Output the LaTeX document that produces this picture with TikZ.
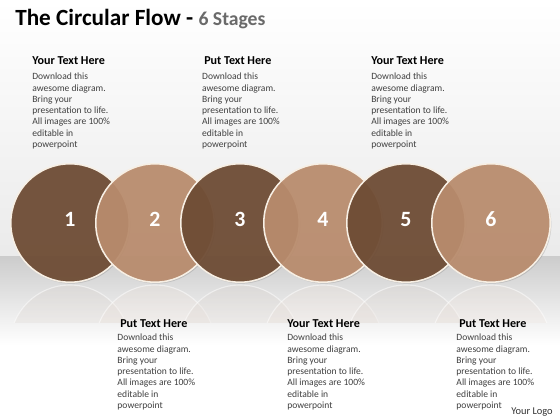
\documentclass[tikz,border=0pt]{standalone}
\usepackage{fontspec}
\setmainfont{Carlito}
\usetikzlibrary{positioning,shadows}
\definecolor{darkbrown}{HTML}{6D4A32}
\definecolor{lightbrown}{HTML}{BA8C6D}
\definecolor{rimcream}{HTML}{F7EFE4}
\definecolor{bodygray}{HTML}{404040}
\definecolor{titlegray}{HTML}{6A6A6A}
\begin{document}
\begin{tikzpicture}
[x=0.025cm, y=-0.025cm,
 stage/.style={circle, minimum size=2.96cm, inner sep=0, draw=rimcream, line width=1.1pt,
   fill opacity=.92, text opacity=1, text=white,
   font=\bfseries\fontsize{15.5}{16}\selectfont, text height=9.8pt, text depth=4.2pt,
   drop shadow={shadow xshift=.8pt, shadow yshift=-1pt, opacity=.3}},
 head/.style={font=\bfseries\fontsize{8.6}{10}\selectfont, inner sep=0, text height=.7em, text depth=.2em, anchor=base west},
 blurb/.style={font=\fontsize{6.8}{8}\selectfont, text=bodygray, align=left, inner sep=0}]
\useasboundingbox (0,0) rectangle (560,420);
% background, wall and floor
\shade[top color=white, bottom color=black!8] (0,0) rectangle (560,256);
\shade[top color=black!20, bottom color=white] (0,256) rectangle (560,345);
\fill[white] (0,345) rectangle (560,420);

% reflections
\begin{scope}
\clip (0,284) rectangle (560,322);
\foreach \cx/\col in {70/darkbrown,155/lightbrown,240/darkbrown,323/lightbrown,406/darkbrown,491/lightbrown}
  \draw[draw=white, draw opacity=.5, fill=\col!25!white, fill opacity=.25, line width=.8pt] (\cx,345) circle (60);
\end{scope}

% stages
\node[stage, fill=darkbrown] (S1) at (70,223) {1};
\node[stage, fill=lightbrown] (S2) at (155,223) {2};
\node[stage, fill=darkbrown] (S3) at (240,223) {3};
\node[stage, fill=lightbrown] (S4) at (323,223) {4};
\node[stage, fill=darkbrown] (S5) at (406,223) {5};
\node[stage, fill=lightbrown] (S6) at (491,223) {6};

% title
\node[anchor=base west, inner sep=0, font=\bfseries\fontsize{16.5}{18}\selectfont] (Title) at (15,26)
  {The Circular Flow - {\color{titlegray}\fontsize{14}{16}\selectfont 6 Stages}};

% text above
\node[head] (H1) at (32,65) {Your Text Here};
\node[blurb, below=3.4pt of H1.south west, anchor=north west] (B1) {Download this\\awesome diagram.\\Bring your\\presentation to life.\\All images are 100\%\\editable in\\powerpoint};
\node[head] (H3) at (204,65) {Put Text Here};
\node[blurb, below=3.4pt of H3.south west, anchor=north west, xshift=-1.5pt] (B3) {Download this\\awesome diagram.\\Bring your\\presentation to life.\\All images are 100\%\\editable in\\powerpoint};
\node[head] (H5) at (371,65) {Your Text Here};
\node[blurb, below=3.4pt of H5.south west, anchor=north west] (B5) {Download this\\awesome diagram.\\Bring your\\presentation to life.\\All images are 100\%\\editable in\\powerpoint};

% text below
\node[head] (H2) at (120,327) {Put Text Here};
\node[blurb, below=2.8pt of H2.south west, anchor=north west, xshift=-2pt] (B2) {Download this\\awesome diagram.\\Bring your\\presentation to life.\\All images are 100\%\\editable in\\powerpoint};
\node[head] (H4) at (287,327) {Your Text Here};
\node[blurb, below=2.8pt of H4.south west, anchor=north west] (B4) {Download this\\awesome diagram.\\Bring your\\presentation to life.\\All images are 100\%\\editable in\\powerpoint};
\node[head] (H6) at (459,327) {Put Text Here};
\node[blurb, below=2.8pt of H6.south west, anchor=north west, xshift=-2pt] (B6) {Download this\\awesome diagram.\\Bring your\\presentation to life.\\All images are 100\%\\editable in\\powerpoint};

\node[anchor=base west, inner sep=0, font=\fontsize{7.4}{9}\selectfont, text=black!80] (Logo) at (511,414) {Your Logo};
\end{tikzpicture}
\end{document}
